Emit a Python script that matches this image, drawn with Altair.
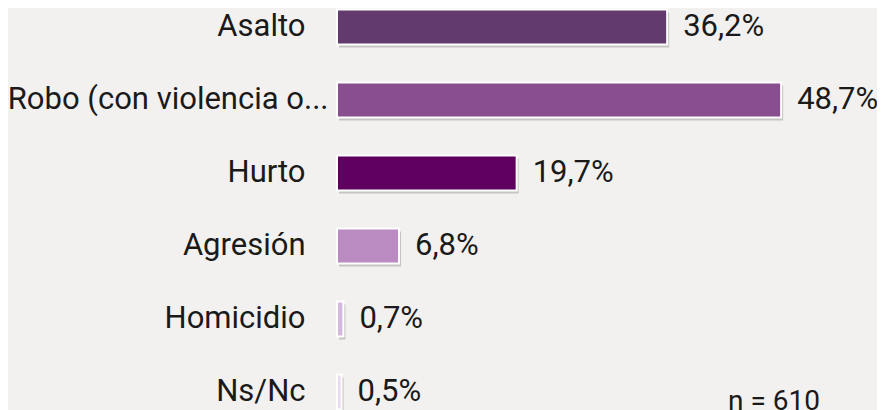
import altair as alt
import pandas as pd

categories = ["Asalto", "Robo (con violencia o...", "Hurto", "Agresión", "Homicidio", "Ns/Nc"]
values = [36.2, 48.7, 19.7, 6.8, 0.7, 0.5]
colors = ["#633a6d", "#884e90", "#5f005f", "#b98bc0", "#d4b8de", "#e8d9ee"]
note = "n = 610"

df = pd.DataFrame({"cat": categories, "val": values})

FONT = "Roboto"
FS = 31
long_label = categories[1]

y_enc = alt.Y(
    "cat:N",
    sort=None,
    title=None,
    scale=alt.Scale(range=[0, 403], paddingInner=0.519, paddingOuter=0.02),
    axis=alt.Axis(
        domain=False,
        ticks=False,
        grid=False,
        labelFont=FONT,
        labelFontSize=FS,
        labelColor="#1a1a1a",
        labelLimit=400,
        labelPadding={"condition": {"test": f"datum.value == '{long_label}'", "value": 9}, "value": 32},
    ),
)
x_enc = alt.X("val:Q", axis=None, scale=alt.Scale(domain=[0, 50]))

base = alt.Chart(df)

shadow = base.mark_bar(color="#8e8e8e", opacity=0.45, xOffset=2, yOffset=3).encode(x=x_enc, y=y_enc)

bars = base.mark_bar(stroke="white", strokeWidth=2).encode(
    x=x_enc,
    y=y_enc,
    color=alt.Color("cat:N", scale=alt.Scale(domain=categories, range=colors), legend=None),
)

labels = base.transform_calculate(
    lab="replace(format(datum.val, '.1f'), '.', ',') + '%'"
).mark_text(align="left", baseline="middle", dx=16, font=FONT, fontSize=FS, color="#1a1a1a").encode(
    x=x_enc, y=y_enc, text="lab:N"
)

ndf = pd.DataFrame({"t": [note]})
ntext = alt.Chart(ndf).mark_text(
    align="left", baseline="alphabetic", font=FONT, fontSize=28, color="#1a1a1a"
).encode(x=alt.value(391), y=alt.value(402), text="t:N")

chart = (
    alt.layer(shadow, bars, labels, ntext)
    .properties(
        width=456,
        height=404,
        padding={"left": 329, "top": 0, "right": 84, "bottom": 0},
        autosize=alt.AutoSizeParams(type="none"),
        background="#f2f1ef",
    )
    .configure_view(stroke=None)
)

chart.save("out.html", embed_options={"renderer": "svg", "actions": False})
